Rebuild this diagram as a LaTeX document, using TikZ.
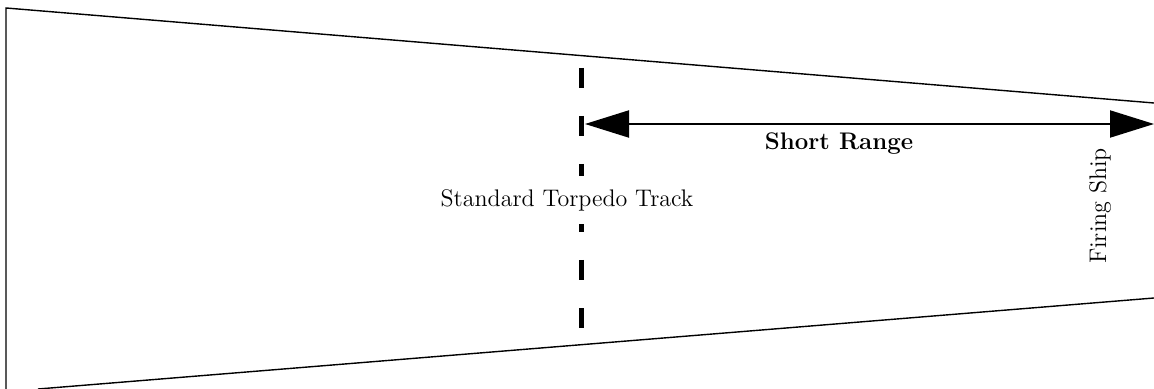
\documentclass[tikz,border=0pt]{standalone}
\usepackage{tikz}
\usetikzlibrary{arrows.meta}

\begin{document}
\begin{tikzpicture}[x=0.5pt,y=-0.5pt,inner sep=0pt,outer sep=0pt,
    every node/.style={font=\fontsize{12}{14}\selectfont}]
    \useasboundingbox (0,0) rectangle (1154,389);

    % sector outline
    \draw[line width=0.7pt] (6,389) -- (6,8) -- (1154,103);
    \draw[line width=0.7pt] (38,389) -- (1154,298);

    % standard torpedo track
    \coordinate (track_top) at (581,68);
    \coordinate (track_bot) at (581,328);
    \draw[line width=2.5pt, dash pattern=on 10pt off 14pt] (track_top) -- (track_bot);
    \node[fill=white, inner xsep=2pt, inner ysep=6.5pt] (track_lbl) at (567,200)
    {Standard Torpedo Track};

    % short range
    \coordinate (range_l) at (585,124);
    \coordinate (range_r) at (1154,124);
    \draw[line width=1pt, {Triangle[length=22pt,width=13.5pt]}-{Triangle[length=22pt,width=13.5pt]}]
    (range_l) -- (range_r);
    \node (range_lbl) at (839,144) {\bfseries Short Range};

    % firing ship
    \node[rotate=90] (ship_lbl) at (1100,206) {Firing Ship};

\end{tikzpicture}
\end{document}
